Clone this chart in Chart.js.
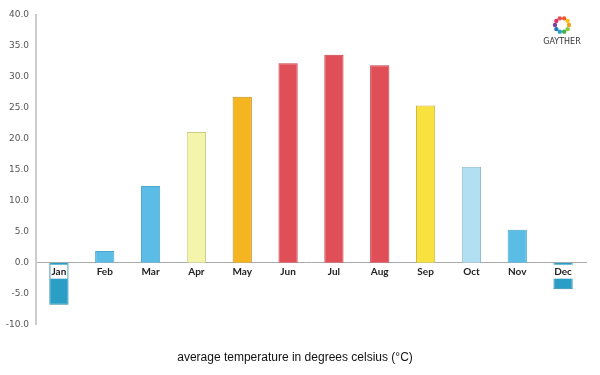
<!DOCTYPE html>
<html lang="en">
<head>
  <meta charset="UTF-8">
  <title>Average temperature</title>
  <script src="https://cdn.jsdelivr.net/npm/chart.js"></script>
  <style>
    html, body { margin: 0; padding: 0; background: #fff; }
    #wrap { position: relative; width: 600px; height: 375px; }
  </style>
</head>
<body>
  <div id="wrap">
    <canvas id="grafico" width="600" height="375"></canvas>
  </div>

  <script>
  const months = ['Jan', 'Feb', 'Mar', 'Apr', 'May', 'Jun', 'Jul', 'Aug', 'Sep', 'Oct', 'Nov', 'Dec'];
  const temps = [-6.8, 1.9, 12.4, 21.1, 26.8, 32.2, 33.6, 31.9, 25.4, 15.5, 5.3, -4.3];
  const fillColors = ['#2a9ec4', '#5bbde6', '#5bbde6', '#f4f5ab', '#f4b521', '#e04f57', '#e04f57', '#e04f57', '#f9e13f', '#b2e0f2', '#5bbde6', '#2a9ec4'];
  const edgeColors = ['#2485a6', '#4aa6cc', '#4aa6cc', '#c9c98a', '#c0901a', '#c83a42', '#c83a42', '#c83a42', '#c9b43a', '#8fb8c8', '#4aa6cc', '#2485a6'];
  const titleText = 'average temperature in degrees celsius (°C)';
  const logoText = 'GAYTHER';
  const logoDots = ['#f0a21f', '#8cc63f', '#39b54a', '#2a9ec4', '#1f78b4', '#7b3fa0', '#e0306a', '#e04f57', '#f15a24', '#f7c21f'];

  // little logo in the top right corner
  const logo = {
    id: 'logo',
    afterDraw(chart) {
      const ctx = chart.ctx;
      const cx = 562, cy = 25, r = 7;
      ctx.save();
      logoDots.forEach((c, i) => {
        const a = i / logoDots.length * Math.PI * 2;
        ctx.fillStyle = c;
        ctx.beginPath();
        ctx.arc(cx + Math.cos(a) * r, cy + Math.sin(a) * r, 2.2, 0, Math.PI * 2);
        ctx.fill();
      });
      ctx.fillStyle = '#333';
      ctx.font = '8px "DejaVu Sans"';
      ctx.textAlign = 'center';
      ctx.textBaseline = 'middle';
      ctx.fillText(logoText, cx, cy + 17);
      ctx.restore();
    }
  };

  new Chart(document.getElementById('grafico'), {
    type: 'bar',
    data: {
      labels: months,
      datasets: [{
        data: temps,
        backgroundColor: fillColors,
        borderColor: edgeColors,
        borderWidth: 1,
        barPercentage: 0.42,
        categoryPercentage: 1
      }]
    },
    options: {
      responsive: false,
      animation: false,
      layout: { padding: { left: 4, right: 14, top: 15, bottom: 6 } },
      scales: {
        x: {
          position: { y: 0 },
          grid: { display: false, drawTicks: false },
          border: { color: '#aaa', width: 1 },
          ticks: {
            z: 1,
            color: '#222',
            padding: 3,
            font: { family: 'Lato', size: 10, weight: 'bold' },
            showLabelBackdrop: true,
            backdropColor: c => (c.index === 0 || c.index === 11) ? '#fff' : 'rgba(0,0,0,0)',
            backdropPadding: 1
          }
        },
        y: {
          min: -10,
          max: 40,
          grid: { display: false, drawTicks: false },
          border: { color: '#ccc', width: 2 },
          afterFit: s => { s.width = 32; },
          ticks: {
            stepSize: 5,
            color: '#555',
            padding: 7,
            font: { family: 'DejaVu Sans', size: 9 },
            callback: v => v.toFixed(1)
          }
        }
      },
      plugins: {
        legend: { display: false },
        tooltip: { enabled: false },
        title: {
          display: true,
          position: 'bottom',
          text: titleText,
          color: '#111',
          padding: { top: 26, bottom: 4 },
          font: { family: 'Liberation Sans', size: 12, weight: 'normal' }
        }
      }
    },
    plugins: [logo]
  });
  </script>
</body>
</html>
